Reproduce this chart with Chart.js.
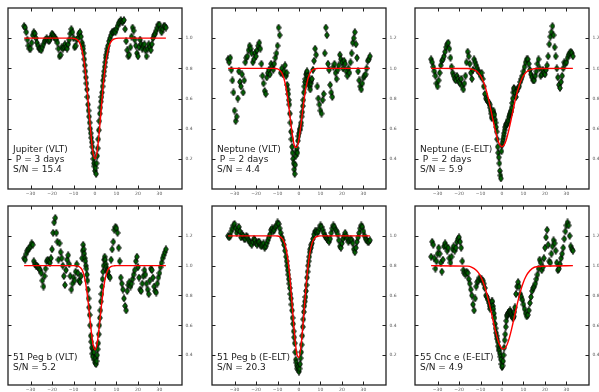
<!DOCTYPE html>
<html><head><meta charset="utf-8">
<script src="https://cdn.jsdelivr.net/npm/chart.js@4/dist/chart.umd.min.js"></script>
<style>
html,body{margin:0;padding:0;background:#fff;width:599px;height:392px;overflow:hidden;position:relative}
canvas{position:absolute}
</style></head><body>
<script>
// radial velocity grid of the cross-correlation points (km/s)
const velocity = [
 -33,-32.5,-32,-31.5,-31,-30.5,-30,-29.5,-29,-28.5,-28,-27.5,-27,-26.5,-26,-25.5,-25,-24.5,-24,-23.5,-23,-22.5,-22,-21.5,-21,-20.5,-20,-19.5,-19,-18.5,-18,-17.5,-17,-16.5,-16,-15.5,-15,-14.5,-14,-13.5,-13,-12.5,-12,-11.5,-11,-10.5,-10,-9.5,-9,-8.5,-8,-7.5,-7,-6.5,
 -6,-5.75,-5.5,-5.25,-5,-4.75,-4.5,-4.25,-4,-3.75,-3.5,-3.25,-3,-2.75,-2.5,-2.25,-2,-1.75,-1.5,-1.25,-1,-0.75,-0.5,-0.25,0,0.25,0.5,0.75,1,1.25,1.5,1.75,2,2.25,2.5,2.75,3,3.25,3.5,3.75,4,4.25,4.5,4.75,5,5.25,5.5,5.75,6,
 6.5,7,7.5,8,8.5,9,9.5,10,10.5,11,11.5,12,12.5,13,13.5,14,14.5,15,15.5,16,16.5,17,17.5,18,18.5,19,19.5,20,20.5,21,21.5,22,22.5,23,23.5,24,24.5,25,25.5,26,26.5,27,27.5,28,28.5,29,29.5,30,30.5,31,31.5,32,32.5,33];

const jupiterVLT = [
 1.08,1.07,1.04,0.99,0.95,0.93,0.93,0.97,1.02,1.04,1.03,1.00,0.97,0.95,0.93,0.93,0.92,0.94,0.96,0.98,0.99,1.00,0.99,0.98,0.99,1.01,1.03,1.02,1.01,1.00,0.99,0.97,0.93,0.88,0.89,0.94,0.93,0.94,0.96,0.94,0.93,0.96,0.99,1.03,1.06,1.04,1.00,0.94,0.95,0.99,1.00,1.03,1.04,1.01,
 0.97,0.95,0.93,0.90,0.86,0.82,0.78,0.74,0.70,0.66,0.61,0.56,0.52,0.48,0.44,0.40,0.37,0.34,0.31,0.28,0.24,0.20,0.17,0.15,0.12,0.14,0.10,0.17,0.22,0.27,0.33,0.39,0.45,0.50,0.54,0.58,0.61,0.64,0.68,0.72,0.75,0.78,0.81,0.84,0.87,0.89,0.91,0.93,0.95,
 0.98,1.00,1.02,1.04,1.04,1.05,1.04,1.06,1.08,1.10,1.11,1.12,1.11,1.11,1.12,1.06,0.98,0.92,0.88,0.89,0.94,1.01,1.07,1.05,0.99,0.95,0.90,0.88,0.94,0.99,0.96,0.93,0.95,0.96,0.92,0.88,0.93,0.96,0.94,0.92,0.96,1.00,1.02,1.03,1.05,1.07,1.09,1.09,1.06,1.04,1.06,1.08,1.08,1.07];

const neptuneVLT = [
 1.06,1.04,1.07,0.99,0.92,0.84,0.72,0.65,0.68,0.80,0.98,0.91,0.88,0.96,0.84,0.92,1.04,1.07,1.08,1.12,1.15,1.13,1.10,1.04,1.06,1.10,1.08,1.12,1.15,1.17,1.13,1.03,0.95,0.90,0.85,0.83,0.94,0.97,0.99,0.96,1.03,1.01,0.99,1.03,1.07,1.10,1.15,1.27,1.22,0.97,1.00,0.96,0.98,1.02,
 0.95,0.97,0.89,0.86,0.83,0.79,0.76,0.70,0.64,0.58,0.53,0.48,0.44,0.40,0.37,0.33,0.30,0.36,0.42,0.45,0.47,0.44,0.52,0.55,0.57,0.59,0.60,0.62,0.64,0.68,0.71,0.75,0.79,0.84,0.88,0.91,0.93,0.96,0.97,0.98,0.95,0.93,0.91,0.89,0.88,0.86,0.90,0.92,0.93,
 0.99,1.05,1.13,1.09,0.88,0.80,0.76,0.72,0.70,0.79,0.83,1.10,1.27,1.22,1.03,0.99,0.89,0.84,0.81,1.01,1.03,0.97,0.93,0.99,1.02,1.09,1.06,1.04,1.00,1.05,1.03,0.98,0.95,1.00,0.97,1.04,1.10,1.17,1.20,1.24,1.16,1.07,0.98,0.92,0.88,0.86,0.90,0.94,0.95,0.96,1.00,1.05,1.06,1.08];

const neptuneELT = [
 1.06,1.04,1.01,0.98,0.95,0.90,0.88,0.92,0.97,1.02,1.05,1.06,1.08,1.11,1.14,1.16,1.17,1.13,1.07,1.01,0.97,0.95,0.93,0.92,0.95,0.93,0.91,0.90,0.93,0.88,0.86,0.90,0.95,1.04,1.11,1.08,1.03,0.97,0.93,0.99,1.06,1.04,1.02,1.00,0.98,0.97,0.95,0.97,0.93,0.88,0.83,0.80,0.79,0.78,
 0.77,0.76,0.74,0.72,0.70,0.67,0.68,0.71,0.72,0.70,0.69,0.66,0.64,0.61,0.58,0.53,0.48,0.44,0.41,0.37,0.32,0.29,0.27,0.45,0.49,0.51,0.53,0.55,0.57,0.59,0.61,0.62,0.63,0.63,0.64,0.65,0.66,0.68,0.69,0.70,0.71,0.72,0.74,0.77,0.80,0.84,0.87,0.86,0.84,
 0.81,0.85,0.87,0.88,0.91,0.93,0.95,0.98,1.01,1.04,1.06,1.06,1.03,0.99,0.96,0.94,0.92,0.92,0.95,0.98,1.03,1.06,1.00,0.95,0.96,0.99,0.97,0.96,0.99,1.02,1.08,1.16,1.21,1.24,1.28,1.22,1.14,1.08,1.00,0.94,0.89,0.87,0.91,0.95,1.00,1.04,1.03,1.04,1.07,1.09,1.10,1.11,1.10,1.08];

const pegVLT = [
 1.05,1.04,1.08,1.10,1.11,1.12,1.13,1.15,1.14,1.03,1.01,1.00,1.00,0.99,0.98,0.97,0.95,0.90,0.86,0.93,0.98,1.03,1.04,1.03,1.02,1.05,1.11,1.22,1.29,1.32,1.22,1.16,1.04,1.15,1.09,1.05,1.00,0.93,0.87,0.97,1.04,1.07,1.01,0.93,0.84,0.88,0.92,0.90,0.96,1.01,0.95,0.90,0.89,0.93,
 1.05,1.10,1.14,1.11,1.08,1.05,1.03,1.00,0.98,0.94,0.90,0.84,0.78,0.72,0.67,0.60,0.53,0.49,0.45,0.41,0.39,0.44,0.42,0.37,0.35,0.38,0.34,0.36,0.40,0.44,0.48,0.54,0.60,0.65,0.70,0.76,0.81,0.86,0.91,0.96,1.00,1.04,1.06,1.04,1.01,0.99,0.97,0.96,0.96,
 0.93,0.92,1.04,1.11,1.16,1.24,1.26,1.25,1.22,1.12,1.03,0.92,0.88,0.84,0.78,0.73,0.70,0.83,0.87,0.89,0.86,0.88,0.91,0.94,0.97,1.03,1.06,0.99,0.92,0.84,0.83,0.88,0.93,0.97,0.94,0.88,0.84,0.81,0.90,0.98,0.97,0.92,0.86,0.83,0.82,0.88,0.92,0.95,0.99,1.02,1.05,1.07,1.09,1.11];

const pegELT = [
 1.00,0.99,1.00,1.03,1.05,1.07,1.08,1.05,1.02,1.04,1.06,1.03,0.99,1.01,1.00,0.98,0.98,1.00,0.99,0.97,0.96,0.95,0.94,0.96,0.98,0.97,0.95,0.94,0.96,0.96,0.94,0.93,0.94,0.95,0.92,0.93,0.95,0.97,0.99,1.01,1.04,1.05,1.03,1.04,1.06,1.07,1.09,1.08,1.05,1.02,0.99,0.97,0.94,0.90,
 0.86,0.83,0.80,0.77,0.74,0.71,0.68,0.65,0.61,0.58,0.54,0.50,0.45,0.41,0.36,0.32,0.28,0.22,0.17,0.15,0.13,0.11,0.12,0.10,0.09,0.11,0.14,0.18,0.22,0.27,0.33,0.39,0.44,0.49,0.53,0.56,0.59,0.63,0.67,0.72,0.76,0.80,0.83,0.86,0.89,0.91,0.92,0.94,0.95,
 0.98,1.01,1.03,1.03,1.02,1.03,1.05,1.07,1.06,1.04,1.02,1.00,0.99,0.98,0.97,0.96,0.98,1.02,1.05,1.07,1.06,1.04,1.03,1.01,0.97,0.93,0.92,0.95,0.98,1.00,1.02,1.00,0.98,0.96,0.97,0.98,0.97,0.95,0.91,0.89,0.92,0.96,0.99,1.02,1.05,1.07,1.06,1.03,1.00,0.98,0.97,0.96,0.96,0.97];

const cncELT = [
 1.06,1.16,1.14,1.05,0.98,1.03,1.08,1.12,1.08,1.02,0.96,1.04,1.13,1.15,1.13,1.10,1.12,1.05,1.02,1.06,1.11,1.13,1.10,1.12,1.16,1.18,1.19,1.16,1.12,1.03,0.97,0.95,0.94,0.96,0.95,0.91,0.88,0.84,0.80,0.74,0.70,0.78,0.86,0.89,0.90,0.92,0.91,0.91,0.90,0.88,0.85,0.80,0.79,0.77,
 0.75,0.73,0.71,0.72,0.74,0.76,0.76,0.73,0.71,0.68,0.65,0.61,0.58,0.55,0.53,0.51,0.49,0.46,0.44,0.43,0.41,0.39,0.37,0.34,0.32,0.33,0.36,0.40,0.45,0.50,0.54,0.59,0.63,0.66,0.67,0.68,0.68,0.69,0.69,0.70,0.69,0.68,0.67,0.66,0.65,0.65,0.66,0.69,0.72,
 0.81,0.86,0.89,0.86,0.81,0.79,0.77,0.74,0.71,0.68,0.66,0.67,0.70,0.75,0.79,0.83,0.85,0.86,0.88,0.91,0.94,0.98,1.04,1.02,0.97,0.99,1.05,1.12,1.19,1.24,1.14,1.03,1.02,1.08,1.13,1.17,1.15,1.10,1.02,0.97,0.98,1.01,1.05,1.08,1.12,1.18,1.23,1.27,1.29,1.27,1.20,1.13,1.11,1.10];

// fitted profiles (red curves)
const fitVelocity = [-33,-16,-14,-12,-11,-10,-9,-8,-7,-6,-5,-4,-3,-2,-1,0,1,2,3,4,5,6,7,8,9,10,11,12,14,16,33];
const fitJupiterVLT = [1,1,1,1,1,0.999,0.995,0.986,0.965,0.919,0.838,0.712,0.549,0.380,0.249,0.200,0.249,0.380,0.549,0.712,0.838,0.919,0.965,0.986,0.995,0.999,1,1,1,1,1];
const fitNeptuneVLT = [1,1,1,1,0.999,0.996,0.988,0.970,0.933,0.868,0.774,0.660,0.552,0.482,0.476,0.534,0.637,0.752,0.852,0.922,0.964,0.986,0.995,0.998,1,1,1,1,1,1,1];
const fitNeptuneELT = [1,0.999,0.995,0.983,0.970,0.951,0.923,0.885,0.837,0.778,0.712,0.644,0.580,0.527,0.492,0.480,0.492,0.527,0.580,0.644,0.712,0.778,0.837,0.885,0.923,0.951,0.970,0.983,0.995,0.999,1];
const fitPegVLT = [1,1,1,1,1,1,0.999,0.997,0.990,0.972,0.930,0.851,0.733,0.595,0.480,0.435,0.480,0.595,0.733,0.851,0.930,0.972,0.990,0.997,0.999,1,1,1,1,1,1];
const fitPegELT = [1,1,1,1,1,0.999,0.995,0.986,0.962,0.912,0.820,0.679,0.503,0.327,0.207,0.185,0.270,0.430,0.611,0.769,0.881,0.946,0.979,0.993,0.998,1,1,1,1,1,1];
const fitCncELT = [1,0.997,0.989,0.970,0.953,0.930,0.898,0.857,0.808,0.750,0.687,0.621,0.559,0.506,0.466,0.444,0.442,0.460,0.496,0.548,0.609,0.673,0.737,0.796,0.848,0.891,0.924,0.949,0.980,0.993,1];

const xTicks = [-30,-20,-10,0,10,20,30];
const yTicksLow = [0.2,0.4,0.6,0.8,1.0];
const yTicksHigh = [0.4,0.6,0.8,1.0,1.2];

const labelJupiterVLT = ['Jupiter (VLT)', ' P = 3 days', 'S/N = 15.4'];
const labelNeptuneVLT = ['Neptune (VLT)', ' P = 2 days', 'S/N = 4.4'];
const labelNeptuneELT = ['Neptune (E-ELT)', ' P = 2 days', 'S/N = 5.9'];
const labelPegVLT = ['51 Peg b (VLT)', 'S/N = 5.2'];
const labelPegELT = ['51 Peg b (E-ELT)', 'S/N = 20.3'];
const labelCncELT = ['55 Cnc e (E-ELT)', 'S/N = 4.9'];

const panels = [
  {vals: jupiterVLT, fit: fitJupiterVLT, yMin: 0.0, yMax: 1.2, yTicks: yTicksLow, text: labelJupiterVLT, L: 7, T: 7, W: 175, H: 182, tb: 19},
  {vals: neptuneVLT, fit: fitNeptuneVLT, yMin: 0.2, yMax: 1.4, yTicks: yTicksHigh, text: labelNeptuneVLT, L: 211, T: 7, W: 175, H: 182, tb: 19},
  {vals: neptuneELT, fit: fitNeptuneELT, yMin: 0.2, yMax: 1.4, yTicks: yTicksHigh, text: labelNeptuneELT, L: 414, T: 7, W: 175, H: 182, tb: 19},
  {vals: pegVLT, fit: fitPegVLT, yMin: 0.2, yMax: 1.4, yTicks: yTicksHigh, text: labelPegVLT, L: 7, T: 205, W: 175, H: 180, tb: 17.5},
  {vals: pegELT, fit: fitPegELT, yMin: 0.0, yMax: 1.2, yTicks: yTicksLow, text: labelPegELT, L: 211, T: 205, W: 175, H: 180, tb: 17.5},
  {vals: cncELT, fit: fitCncELT, yMin: 0.2, yMax: 1.4, yTicks: yTicksHigh, text: labelCncELT, L: 414, T: 205, W: 175, H: 180, tb: 17.5}
];

function makeDiamond() {
  const c = document.createElement('canvas');
  c.width = 6; c.height = 8;
  const g = c.getContext('2d');
  g.beginPath();
  g.moveTo(3, 0.5); g.lineTo(5.3, 4); g.lineTo(3, 7.5); g.lineTo(0.7, 4); g.closePath();
  g.fillStyle = '#006400'; g.fill();
  g.lineWidth = 0.9; g.strokeStyle = '#000'; g.stroke();
  return c;
}
const diamond = makeDiamond();

const PADL = 4, PADT = 4, YAXW = 22, XAXH = 10;

const framePlugin = {
  id: 'frame',
  afterDraw(chart, args, opts) {
    const {ctx, chartArea: a, scales} = chart;
    ctx.save();
    ctx.strokeStyle = '#222';
    ctx.lineWidth = 1;
    ctx.beginPath();
    xTicks.forEach(v => {
      const px = Math.round(scales.x.getPixelForValue(v)) + 0.5;
      ctx.moveTo(px, a.bottom); ctx.lineTo(px, a.bottom - 3.5);
      ctx.moveTo(px, a.top); ctx.lineTo(px, a.top + 3.5);
    });
    opts.yTicks.forEach(v => {
      const py = Math.round(scales.y.getPixelForValue(v)) + 0.5;
      ctx.moveTo(a.left, py); ctx.lineTo(a.left + 3.5, py);
      ctx.moveTo(a.right, py); ctx.lineTo(a.right - 3.5, py);
    });
    ctx.stroke();
    ctx.lineWidth = 1.3;
    ctx.strokeRect(a.left, a.top, a.right - a.left, a.bottom - a.top);
    ctx.fillStyle = '#1a1a1a';
    ctx.font = '9px "DejaVu Sans"';
    ctx.textBaseline = 'middle';
    ctx.textAlign = 'left';
    const lines = opts.text;
    const step = 10.2;
    lines.forEach((s, i) => {
      const y = a.bottom - opts.tb - (lines.length - 1 - i) * step;
      ctx.fillText(s, a.left + 5, y);
    });
    ctx.restore();
  }
};

panels.forEach(p => {
  const cv = document.createElement('canvas');
  const w = p.W + PADL + YAXW, h = p.H + PADT + XAXH;
  cv.width = w; cv.height = h;
  cv.style.left = (p.L - PADL) + 'px';
  cv.style.top = (p.T - PADT) + 'px';
  cv.style.width = w + 'px'; cv.style.height = h + 'px';
  document.body.appendChild(cv);
  new Chart(cv, {
    type: 'scatter',
    data: {
      datasets: [
        {
          type: 'line',
          data: fitVelocity.map((v, i) => ({x: v, y: p.fit[i]})),
          borderColor: '#ff0000', borderWidth: 1.4, pointRadius: 0,
          cubicInterpolationMode: 'monotone', fill: false, order: 1
        },
        {
          type: 'scatter',
          data: velocity.map((v, i) => ({x: v, y: p.vals[i]})),
          pointStyle: diamond, pointRadius: 3, showLine: false, order: 2
        }
      ]
    },
    options: {
      responsive: false, animation: false, devicePixelRatio: 1, events: [],
      layout: {padding: {left: PADL, top: PADT, right: 0, bottom: 0}},
      plugins: {
        legend: {display: false}, tooltip: {enabled: false},
        frame: {yTicks: p.yTicks, text: p.text, tb: p.tb}
      },
      scales: {
        x: {
          type: 'linear', position: 'bottom', min: -40.5, max: 40.5,
          grid: {display: false, drawTicks: false}, border: {display: false},
          afterBuildTicks: s => { s.ticks = xTicks.map(v => ({value: v})); },
          afterFit: s => { s.height = XAXH; s.paddingLeft = 0; s.paddingRight = 0; },
          ticks: {
            padding: 2, maxRotation: 0, autoSkip: false, color: '#555',
            font: {family: 'DejaVu Sans', size: 4.5},
            callback: v => v < 0 ? '\u2212' + Math.abs(v) : String(v)
          }
        },
        y: {
          type: 'linear', position: 'right', min: p.yMin, max: p.yMax,
          grid: {display: false, drawTicks: false}, border: {display: false},
          afterBuildTicks: s => { s.ticks = p.yTicks.map(v => ({value: v})); },
          afterFit: s => { s.width = YAXW; s.paddingTop = 0; s.paddingBottom = 0; },
          ticks: {
            padding: 3.5, autoSkip: false, color: '#555',
            font: {family: 'DejaVu Sans', size: 4.5},
            callback: v => Number(v).toFixed(1)
          }
        }
      }
    },
    plugins: [framePlugin]
  });
});
</script>
</body></html>
